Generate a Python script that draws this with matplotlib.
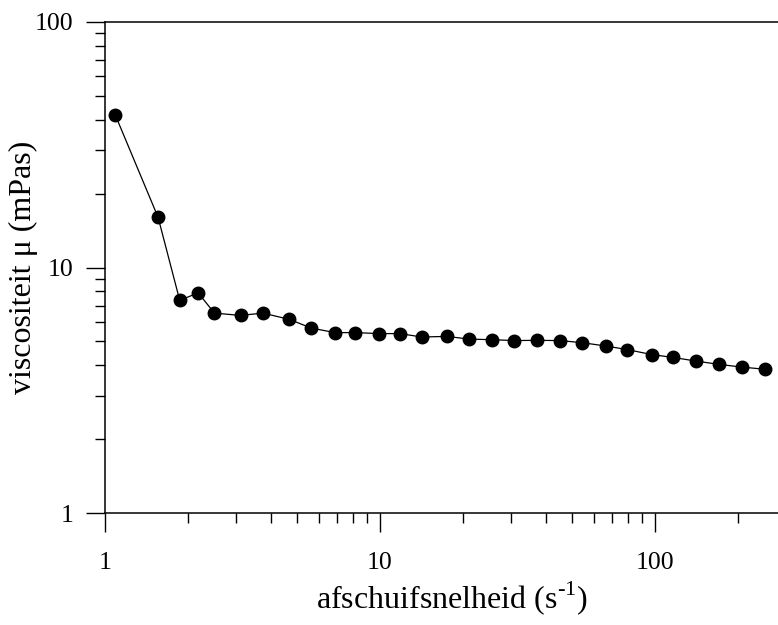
import matplotlib
matplotlib.use("Agg")
import matplotlib.pyplot as plt
from matplotlib.ticker import FixedLocator, FixedFormatter, LogLocator, NullFormatter

plt.rcParams["font.family"] = "Liberation Serif"
plt.rcParams["mathtext.fontset"] = "custom"
plt.rcParams["mathtext.rm"] = "Liberation Serif"

# shear rate (1/s) and viscosity (mPas)
shear_rate = [1.09, 1.56, 1.87, 2.18, 2.5, 3.11, 3.75, 4.68, 5.61, 6.86,
              8.13, 9.94, 11.8, 14.2, 17.5, 21.1, 25.6, 30.8, 37.2, 45.1,
              54.3, 66.2, 79.3, 97.3, 116.6, 140.6, 170.9, 207, 251]
viscosity = [41.8, 16.0, 7.34, 7.89, 6.52, 6.38, 6.52, 6.15, 5.67, 5.43,
             5.43, 5.38, 5.38, 5.21, 5.24, 5.11, 5.08, 5.04, 5.05, 5.04,
             4.94, 4.79, 4.63, 4.42, 4.30, 4.16, 4.03, 3.93, 3.85]

major_ticks = [1, 10, 100]
major_labels = ["1", "10", "100"]

fig = plt.figure(figsize=(7.78, 6.25), dpi=100)
ax = fig.add_axes([105 / 778, 1 - 513 / 625, 1 - 105 / 778, (513 - 22) / 625])

ax.plot(shear_rate, viscosity, color="black", lw=0.9, marker="o",
        markersize=9, markerfacecolor="black", markeredgecolor="black", clip_on=False)

ax.set_xscale("log")
ax.set_yscale("log")
ax.set_xlim(1, 10 ** ((778 - 105) / 275))
ax.set_ylim(1, 100)

for axis in (ax.xaxis, ax.yaxis):
    axis.set_major_locator(FixedLocator(major_ticks))
    axis.set_major_formatter(FixedFormatter(major_labels))
    axis.set_minor_locator(LogLocator(base=10, subs=range(2, 10)))
    axis.set_minor_formatter(NullFormatter())

ax.tick_params(which="major", direction="out", length=14, width=1.0, labelsize=18.5, pad=9)
ax.tick_params(which="minor", direction="out", length=7, width=1.0)
ax.tick_params(axis="x", which="major", pad=14)

ax.spines["right"].set_visible(False)
for s in ("left", "bottom", "top"):
    ax.spines[s].set_linewidth(1.1)

ax.set_xlabel(r"afschuifsnelheid (s$^{\text{-}\mathregular{1}}$)", fontsize=23)
ax.set_ylabel("viscositeit μ (mPas)", fontsize=23)
ax.xaxis.set_label_coords(0.515, -0.135)
ax.yaxis.set_label_coords(-0.1, 0.5)

fig.savefig("out.png", dpi=100, facecolor="white")
